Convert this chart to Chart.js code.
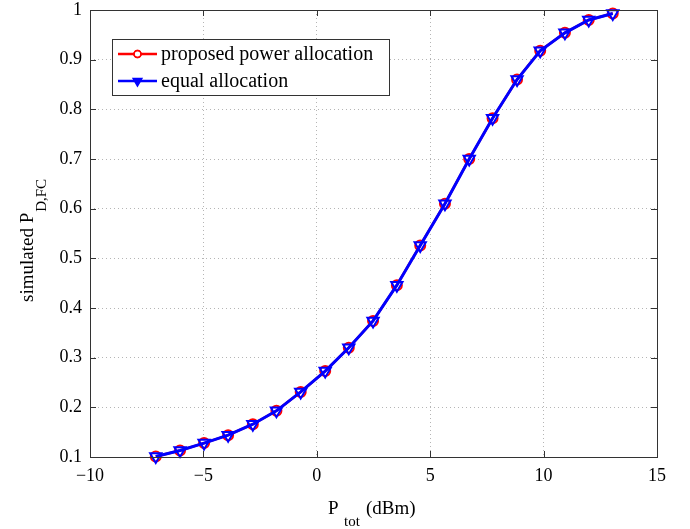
<!DOCTYPE html>
<html>
<head>
<meta charset="utf-8">
<script src="https://cdn.jsdelivr.net/npm/chart.js@4.4.0/dist/chart.umd.min.js"></script>
<style>
  html, body { margin: 0; padding: 0; background: #fff; }
  #wrap { width: 690px; height: 529px; }
</style>
</head>
<body>
<div id="wrap"><canvas id="chart" width="690" height="529"></canvas></div>
<script>
// ── data
const powerDbm   = [-7.1, -6.03, -4.97, -3.91, -2.82, -1.78, -0.71, 0.37, 1.41, 2.48,
                    3.53, 4.56, 5.65, 6.72, 7.75, 8.83, 9.85, 10.94, 11.99, 13.05];
const proposedPd = [0.101, 0.113, 0.128, 0.144, 0.166, 0.193, 0.231, 0.273, 0.320, 0.374,
                    0.446, 0.526, 0.610, 0.700, 0.782, 0.860, 0.918, 0.954, 0.980, 0.993];
const equalPd    = [0.101, 0.113, 0.128, 0.144, 0.166, 0.193, 0.231, 0.273, 0.320, 0.374,
                    0.446, 0.526, 0.610, 0.700, 0.782, 0.860, 0.918, 0.954, 0.980, 0.993];
const xTicks = [-10, -5, 0, 5, 10, 15];
const yTicks = [0.1, 0.2, 0.3, 0.4, 0.5, 0.6, 0.7, 0.8, 0.9, 1];

const SERIF = '"Liberation Serif", "Times New Roman", serif';
const AXIS_COLOR = '#333';

const toPoints = ys => powerDbm.map((x, i) => ({ x, y: ys[i] }));

// box, inward ticks, axis titles and legend drawn on top of the chart
const frame = {
  id: 'frame',
  afterDraw(chart) {
    const { ctx, chartArea: a, scales } = chart;
    const tl = 6;
    ctx.save();
    ctx.strokeStyle = AXIS_COLOR;
    ctx.lineWidth = 1;
    ctx.strokeRect(Math.round(a.left) + 0.5, Math.round(a.top) + 0.5,
                   Math.round(a.right - a.left), Math.round(a.bottom - a.top));
    ctx.beginPath();
    xTicks.forEach(v => {
      const px = Math.round(scales.x.getPixelForValue(v)) + 0.5;
      ctx.moveTo(px, a.bottom); ctx.lineTo(px, a.bottom - tl);
      ctx.moveTo(px, a.top); ctx.lineTo(px, a.top + tl);
    });
    yTicks.forEach(v => {
      const py = Math.round(scales.y.getPixelForValue(v)) + 0.5;
      ctx.moveTo(a.left, py); ctx.lineTo(a.left + tl, py);
      ctx.moveTo(a.right, py); ctx.lineTo(a.right - tl, py);
    });
    ctx.stroke();

    // x title: P_tot (dBm)
    ctx.fillStyle = '#000';
    ctx.textAlign = 'left';
    ctx.textBaseline = 'alphabetic';
    ctx.font = '19px ' + SERIF;
    ctx.fillText('P', 328, 514);
    ctx.font = '15px ' + SERIF;
    ctx.fillText('tot', 344, 526);
    ctx.font = '19px ' + SERIF;
    ctx.fillText('(dBm)', 366, 514);

    // y title: simulated P_D,FC (reads bottom to top)
    ctx.save();
    ctx.translate(33, 302);
    ctx.rotate(-Math.PI / 2);
    ctx.font = '19px ' + SERIF;
    ctx.fillText('simulated P', 0, 0);
    const w = ctx.measureText('simulated P').width;
    ctx.font = '15px ' + SERIF;
    ctx.fillText('D,FC', w + 1, 13);
    ctx.restore();

    // legend
    const lx = 112, ly = 39, lw = 277, lh = 56;
    ctx.fillStyle = '#fff';
    ctx.fillRect(lx, ly, lw, lh);
    ctx.strokeStyle = AXIS_COLOR;
    ctx.strokeRect(lx + 0.5, ly + 0.5, lw, lh);
    const rows = [
      { label: 'proposed power allocation', color: '#ff0000', style: 'circle', y: 54 },
      { label: 'equal allocation', color: '#0000ff', style: 'triangle', y: 81 }
    ];
    rows.forEach(r => {
      ctx.strokeStyle = r.color;
      ctx.lineWidth = 2.5;
      ctx.beginPath();
      ctx.moveTo(118, r.y); ctx.lineTo(157, r.y);
      ctx.stroke();
      ctx.lineWidth = 1.5;
      if (r.style === 'circle') {
        Chart.helpers.drawPoint(ctx, { pointStyle: 'circle', radius: 3.5, borderWidth: 1.5, rotation: 0 }, 137.5, r.y);
        ctx.stroke();
      } else {
        ctx.fillStyle = r.color;
        Chart.helpers.drawPoint(ctx, { pointStyle: 'triangle', radius: 5, borderWidth: 1.5, rotation: 180 }, 137.5, r.y);
      }
      ctx.fillStyle = '#000';
      ctx.font = '20px ' + SERIF;
      ctx.textBaseline = 'middle';
      ctx.fillText(r.label, 161, r.y + 1);
    });
    ctx.restore();
  }
};

new Chart(document.getElementById('chart'), {
  type: 'line',
  data: {
    datasets: [
      {
        label: 'proposed power allocation',
        data: toPoints(proposedPd),
        borderColor: '#ff0000',
        borderWidth: 2.5,
        pointStyle: 'circle',
        pointRadius: 5,
        pointBorderWidth: 2,
        pointBorderColor: '#ff0000',
        pointBackgroundColor: 'rgba(0,0,0,0)',
        tension: 0,
        clip: 10,
        order: 2
      },
      {
        label: 'equal allocation',
        data: toPoints(equalPd),
        borderColor: '#0000ff',
        borderWidth: 3,
        pointStyle: 'triangle',
        pointRotation: 180,
        pointRadius: 6.5,
        pointBorderWidth: 2,
        pointBorderColor: '#0000ff',
        pointBackgroundColor: 'rgba(0,0,0,0)',
        tension: 0,
        clip: 10,
        order: 1
      }
    ]
  },
  options: {
    responsive: false,
    animation: false,
    devicePixelRatio: 1,
    layout: { padding: { left: 0, right: 33, top: 10, bottom: 0 } },
    plugins: { legend: { display: false }, tooltip: { enabled: false } },
    scales: {
      x: {
        type: 'linear',
        min: -10, max: 15,
        afterBuildTicks: s => { s.ticks = xTicks.map(v => ({ value: v })); },
        afterFit: s => { s.height = 72; s.paddingLeft = 0; s.paddingRight = 0; },
        grid: { color: '#b5b5b5', lineWidth: 1, drawTicks: false },
        border: { display: false, dash: [1, 3] },
        ticks: {
          color: '#000',
          font: { family: SERIF, size: 18 },
          padding: 8,
          maxRotation: 0,
          callback: v => String(v).replace('-', '\u2212')
        }
      },
      y: {
        type: 'linear',
        min: 0.1, max: 1,
        afterBuildTicks: s => { s.ticks = yTicks.map(v => ({ value: v })); },
        afterFit: s => { s.width = 90; s.paddingTop = 0; s.paddingBottom = 0; },
        grid: { color: '#b5b5b5', lineWidth: 1, drawTicks: false },
        border: { display: false, dash: [1, 3] },
        ticks: {
          color: '#000',
          font: { family: SERIF, size: 18 },
          padding: 8,
          callback: v => String(+v.toFixed(1))
        }
      }
    }
  },
  plugins: [frame]
});
</script>
</body>
</html>
